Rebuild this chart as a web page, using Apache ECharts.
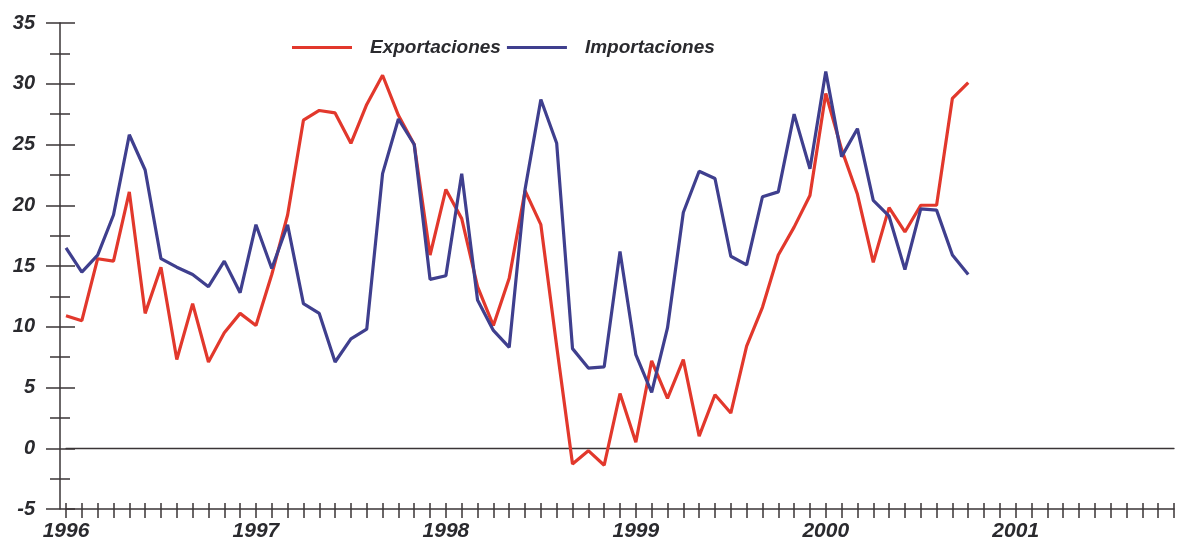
<!DOCTYPE html>
<html>
<head>
<meta charset="utf-8">
<script src="https://cdn.jsdelivr.net/npm/echarts@6/dist/echarts.min.js"></script>
<style>
  html, body { margin: 0; padding: 0; background: #ffffff; }
  #chart { width: 1185px; height: 547px; }
</style>
</head>
<body>
<div id="chart"></div>
<script>
// Tick labels (years) and month categories Jan 1996 .. Nov 2001
const yearLabels = ['1996', '1997', '1998', '1999', '2000', '2001'];
const monthsPerYear = ['01','02','03','04','05','06','07','08','09','10','11','12'];
const categories = [];
yearLabels.forEach(y => monthsPerYear.forEach(m => categories.push(y + '-' + m)));
categories.length = 71;

// Series values (monthly, Jan 1996 .. Oct 2000)
const exportaciones = [
  10.9, 10.5, 15.6, 15.4, 21.1, 11.1, 14.9, 7.3, 11.9, 7.1, 9.5, 11.1,
  10.1, 14.3, 19.2, 27.0, 27.8, 27.6, 25.1, 28.3, 30.7, 27.4, 25.0, 15.9,
  21.3, 18.9, 13.3, 10.1, 14.0, 21.2, 18.4, 8.4, -1.3, -0.2, -1.4, 4.5,
  0.5, 7.2, 4.1, 7.3, 1.0, 4.4, 2.9, 8.4, 11.6, 15.9, 18.2, 20.8,
  29.2, 24.6, 20.9, 15.3, 19.8, 17.8, 20.0, 20.0, 28.8, 30.1
];
const importaciones = [
  16.5, 14.5, 15.9, 19.2, 25.8, 22.9, 15.6, 14.9, 14.3, 13.3, 15.4, 12.8,
  18.4, 14.8, 18.4, 11.9, 11.1, 7.1, 9.0, 9.8, 22.6, 27.1, 25.0, 13.9,
  14.2, 22.6, 12.2, 9.7, 8.3, 21.3, 28.7, 25.1, 8.2, 6.6, 6.7, 16.2,
  7.7, 4.6, 9.9, 19.4, 22.8, 22.2, 15.8, 15.1, 20.7, 21.1, 27.5, 23.0,
  31.0, 24.0, 26.3, 20.4, 19.1, 14.7, 19.7, 19.6, 15.9, 14.3
];

const axisColor = '#3a3436';
const textColor = '#2a2a2e';
const font = 'Liberation Sans';

const chart = echarts.init(document.getElementById('chart'), null, { renderer: 'canvas' });
chart.setOption({
  animation: false,
  backgroundColor: '#ffffff',
  grid: { left: 66, right: 11, top: 23, bottom: 38, containLabel: false },
  legend: {
    data: ['Exportaciones', 'Importaciones'],
    left: 287, top: 33,
    icon: 'rect', itemWidth: 60, itemHeight: 3, itemGap: 6,
    textStyle: { fontFamily: font, fontSize: 19, fontStyle: 'italic', fontWeight: 'bold', color: textColor, padding: [0, 0, 0, 13] }
  },
  xAxis: [
    {
      type: 'category', data: categories, boundaryGap: false,
      axisLine: { onZero: false, lineStyle: { color: axisColor, width: 1.5 } },
      axisTick: { show: true, interval: 0, length: 9, inside: false, lineStyle: { color: axisColor, width: 1.5 } },
      axisLabel: {
        interval: 0, margin: 12, color: textColor, fontFamily: font, fontSize: 21, fontStyle: 'italic', fontWeight: 'bold',
        formatter: (v, i) => (i % 12 === 0 ? yearLabels[i / 12] : '')
      },
      splitLine: { show: false }
    },
    {
      type: 'category', data: categories, boundaryGap: false, position: 'bottom',
      axisLine: { show: false, onZero: false },
      axisTick: { show: true, interval: 0, length: 6, inside: true, lineStyle: { color: axisColor, width: 1.5 } },
      axisLabel: { show: false },
      splitLine: { show: false }
    },
    {
      type: 'category', data: categories, boundaryGap: false, position: 'bottom',
      axisLine: { show: true, onZero: true, lineStyle: { color: axisColor, width: 1.3 } },
      axisTick: { show: false },
      axisLabel: { show: false },
      splitLine: { show: false }
    }
  ],
  yAxis: [
    {
      type: 'value', position: 'left', min: -5, max: 35, interval: 5, offset: 6,
      axisLine: { show: true, lineStyle: { color: axisColor, width: 1.5 } },
      axisTick: { show: true, length: 14, inside: false, lineStyle: { color: axisColor, width: 1.5 } },
      minorTick: { show: true, splitNumber: 2, length: 10, lineStyle: { color: axisColor, width: 1.5 } },
      axisLabel: { margin: 25, color: textColor, fontFamily: font, fontSize: 20, fontStyle: 'italic', fontWeight: 'bold' },
      splitLine: { show: false }
    },
    {
      type: 'value', position: 'left', min: -5, max: 35, interval: 5, offset: 6,
      axisLine: { show: false },
      axisTick: { show: true, length: 15, inside: true, lineStyle: { color: axisColor, width: 1.5 } },
      minorTick: { show: true, splitNumber: 2, length: 10, lineStyle: { color: axisColor, width: 1.5 } },
      axisLabel: { show: false },
      splitLine: { show: false }
    }
  ],
  series: [
    {
      name: 'Exportaciones', type: 'line', data: exportaciones, xAxisIndex: 0, yAxisIndex: 0,
      showSymbol: false, symbol: 'none',
      lineStyle: { color: '#e2382c', width: 3.2 }, itemStyle: { color: '#e2382c' }
    },
    {
      name: 'Importaciones', type: 'line', data: importaciones, xAxisIndex: 0, yAxisIndex: 0,
      showSymbol: false, symbol: 'none',
      lineStyle: { color: '#3f3f8e', width: 3.2 }, itemStyle: { color: '#3f3f8e' }
    }
  ]
});
</script>
</body>
</html>
